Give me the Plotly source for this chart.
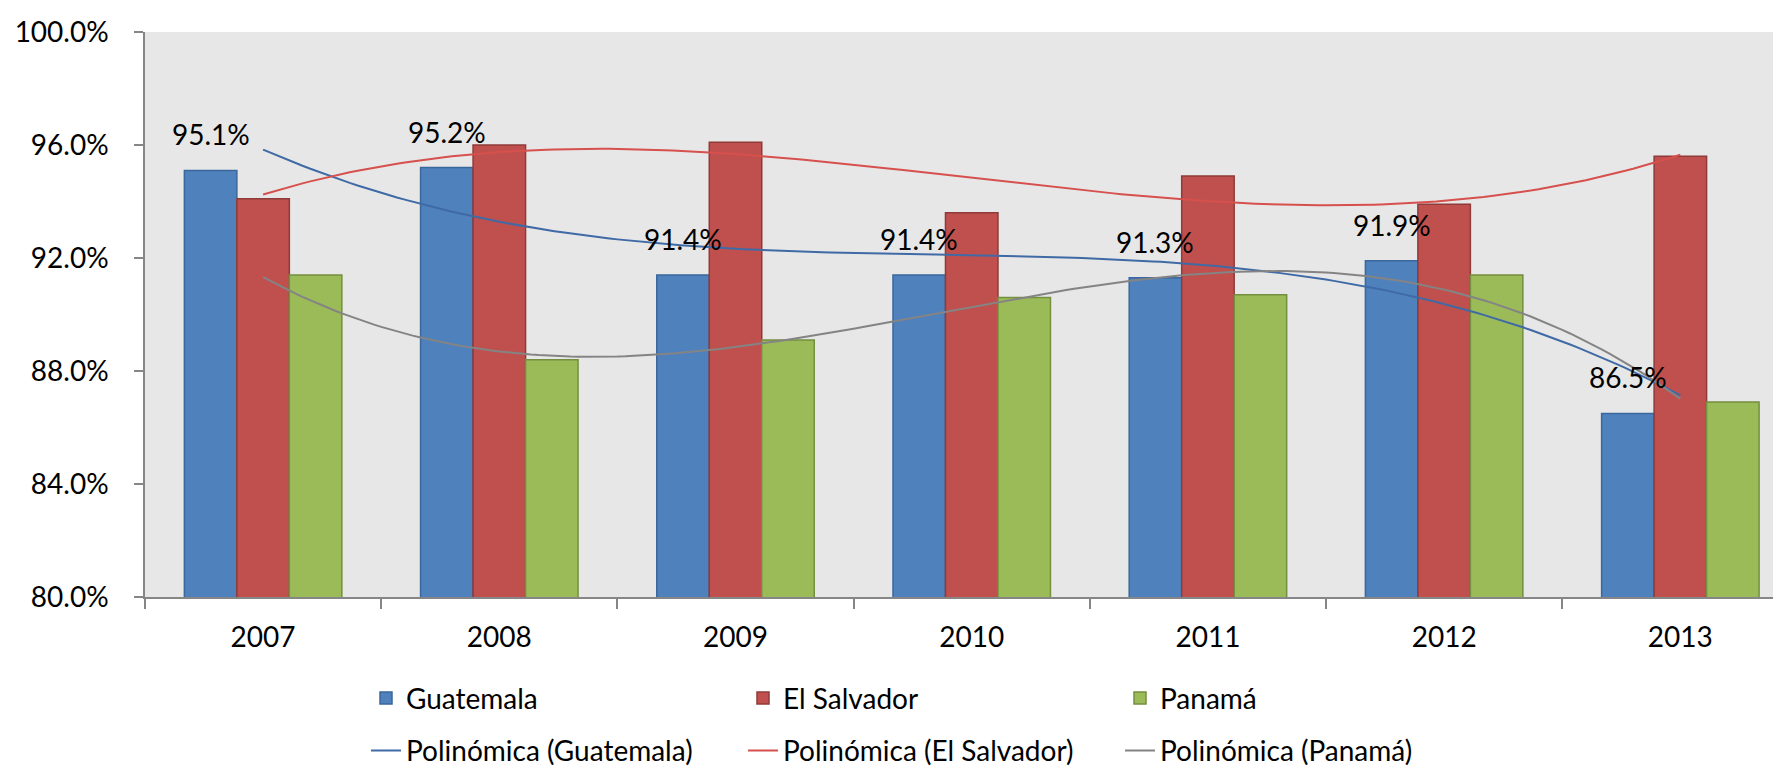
import numpy as np
import plotly.graph_objects as go

years = ["2007", "2008", "2009", "2010", "2011", "2012", "2013"]
guatemala = [95.1, 95.2, 91.4, 91.4, 91.3, 91.9, 86.5]
el_salvador = [94.1, 96.0, 96.1, 93.6, 94.9, 93.9, 95.6]
panama = [91.4, 88.4, 89.1, 90.6, 90.7, 91.4, 86.9]

series_names = ["Guatemala", "El Salvador", "Panamá"]
trend_names = ["Polinómica (Guatemala)", "Polinómica (El Salvador)", "Polinómica (Panamá)"]
y_ticks = [80, 84, 88, 92, 96, 100]
y_ticktext = ["80.0%", "84.0%", "88.0%", "92.0%", "96.0%", "100.0%"]

FONT = "Lato"
FS = 28
fills = ["#4F81BD", "#C0504D", "#9BBB59"]
borders = ["#3A679C", "#8E3B39", "#748F3F"]
trend_colors = ["#3F6AA6", "#D6504D", "#848484"]

fig = go.Figure()
for name, vals, fc, bc in zip(series_names, [guatemala, el_salvador, panama], fills, borders):
    fig.add_trace(go.Bar(
        x=years, y=vals, name=name, legend="legend",
        marker=dict(color=fc, line=dict(color=bc, width=1.5)),
        hoverinfo="x+y",
    ))

# polynomial (order 3) trend lines, as Excel "Polinómica"
idx = np.arange(1, len(years) + 1)
xs = np.linspace(1, len(years), 181)
for name, vals, col in zip(trend_names, [guatemala, el_salvador, panama], trend_colors):
    coef = np.polyfit(idx, vals, 3)
    fig.add_trace(go.Scatter(
        x=xs - 1, y=np.polyval(coef, xs), xaxis="x2", name=name, legend="legend2",
        mode="lines", line=dict(color=col, width=2), hoverinfo="skip",
    ))

# data labels on Guatemala bars (category index positions)
for i, v in enumerate(guatemala):
    fig.add_annotation(
        x=i, y=v, xref="x", yref="y", text=f"{v:.1f}%", showarrow=False,
        xshift=-52.5, yshift=36, yanchor="middle",
        font=dict(family=FONT, size=FS, color="#000000"),
    )

legend_common = dict(
    orientation="h", xanchor="left", yanchor="top",
    entrywidth=332, entrywidthmode="pixels",
    font=dict(family=FONT, size=FS, color="#000000"),
    traceorder="normal", bgcolor="rgba(0,0,0,0)",
)

fig.update_layout(
    width=1781, height=768,
    margin=dict(l=137, r=0, t=24, b=174),
    paper_bgcolor="#FFFFFF", plot_bgcolor="#E7E7E7",
    barmode="group", bargap=1/3, bargroupgap=0,
    font=dict(family=FONT, size=FS, color="#000000"),
    showlegend=True,
    legend=dict(x=(358 - 137) / 1644, y=-0.135, **legend_common),
    legend2=dict(x=(358 - 137) / 1644, y=-0.228, **legend_common),
    xaxis=dict(
        type="category", range=[-0.5, 6.46],
        showline=True, linecolor="#868686", linewidth=2,
        ticks="outside", tickson="boundaries", ticklen=10, tickcolor="#868686", tickwidth=1.5,
        showgrid=False, zeroline=False, ticklabelstandoff=14,
        tickfont=dict(family=FONT, size=FS, color="#000000"),
    ),
    xaxis2=dict(
        overlaying="x", range=[-0.5, 6.46], visible=False, showgrid=False, zeroline=False,
    ),
    yaxis=dict(
        range=[80, 100], tickvals=y_ticks, ticktext=y_ticktext,
        showline=True, linecolor="#868686", linewidth=1.5,
        ticks="outside", ticklen=9, tickcolor="#868686", tickwidth=1.5,
        showgrid=False, zeroline=False, ticklabelstandoff=20,
        tickfont=dict(family=FONT, size=FS, color="#000000"),
    ),
)

fig.write_html("out.html")
